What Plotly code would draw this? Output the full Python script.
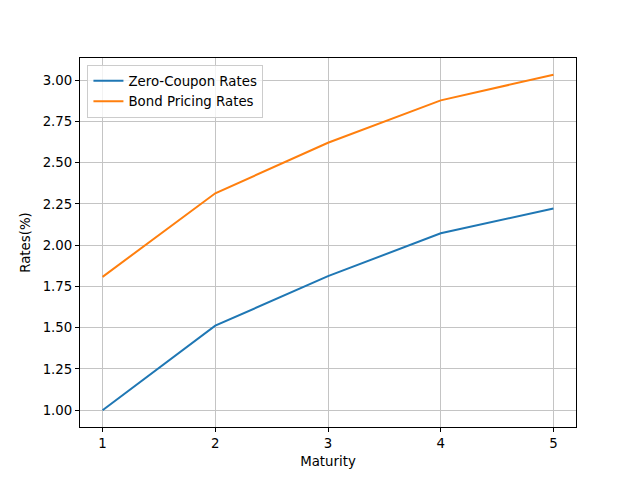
import plotly.graph_objects as go

maturity = [1, 2, 3, 4, 5]
zero_coupon = [1.00, 1.512, 1.812, 2.072, 2.222]
bond_pricing = [1.808, 2.314, 2.62, 2.877, 3.032]

font = dict(family="DejaVu Sans", size=13.33, color="black")

fig = go.Figure()
fig.add_trace(go.Scatter(x=maturity, y=zero_coupon, mode="lines", name="Zero-Coupon Rates",
                         line=dict(color="#1f77b4", width=2)))
fig.add_trace(go.Scatter(x=maturity, y=bond_pricing, mode="lines", name="Bond Pricing Rates",
                         line=dict(color="#ff7f0e", width=2)))

axis_common = dict(showline=True, mirror=True, linecolor="black", linewidth=1,
                   ticks="outside", ticklen=4, tickcolor="black", tickwidth=1,
                   showgrid=True, gridcolor="#c4c4c4", gridwidth=1, zeroline=False,
                   tickfont=font)

fig.update_layout(
    width=640, height=480,
    paper_bgcolor="white", plot_bgcolor="white",
    margin=dict(l=72, r=72, t=50, b=61, pad=0),
    font=font,
    showlegend=True,
    legend=dict(x=0.015, y=0.982, xanchor="left", yanchor="top",
                bgcolor="rgba(255,255,255,0.8)", bordercolor="#cccccc", borderwidth=1,
                font=font, tracegroupgap=0),
)
fig.update_xaxes(range=[0.8, 5.2], tickvals=maturity, ticktext=["1", "2", "3", "4", "5"],
                 title=dict(text="Maturity", font=font, standoff=6), **axis_common)
fig.update_yaxes(range=[0.8984, 3.1336], tickvals=[1.0, 1.25, 1.5, 1.75, 2.0, 2.25, 2.5, 2.75, 3.0],
                 tickformat=".2f",
                 title=dict(text="Rates(%)", font=font, standoff=8), **axis_common)

fig.write_html("out.html")
